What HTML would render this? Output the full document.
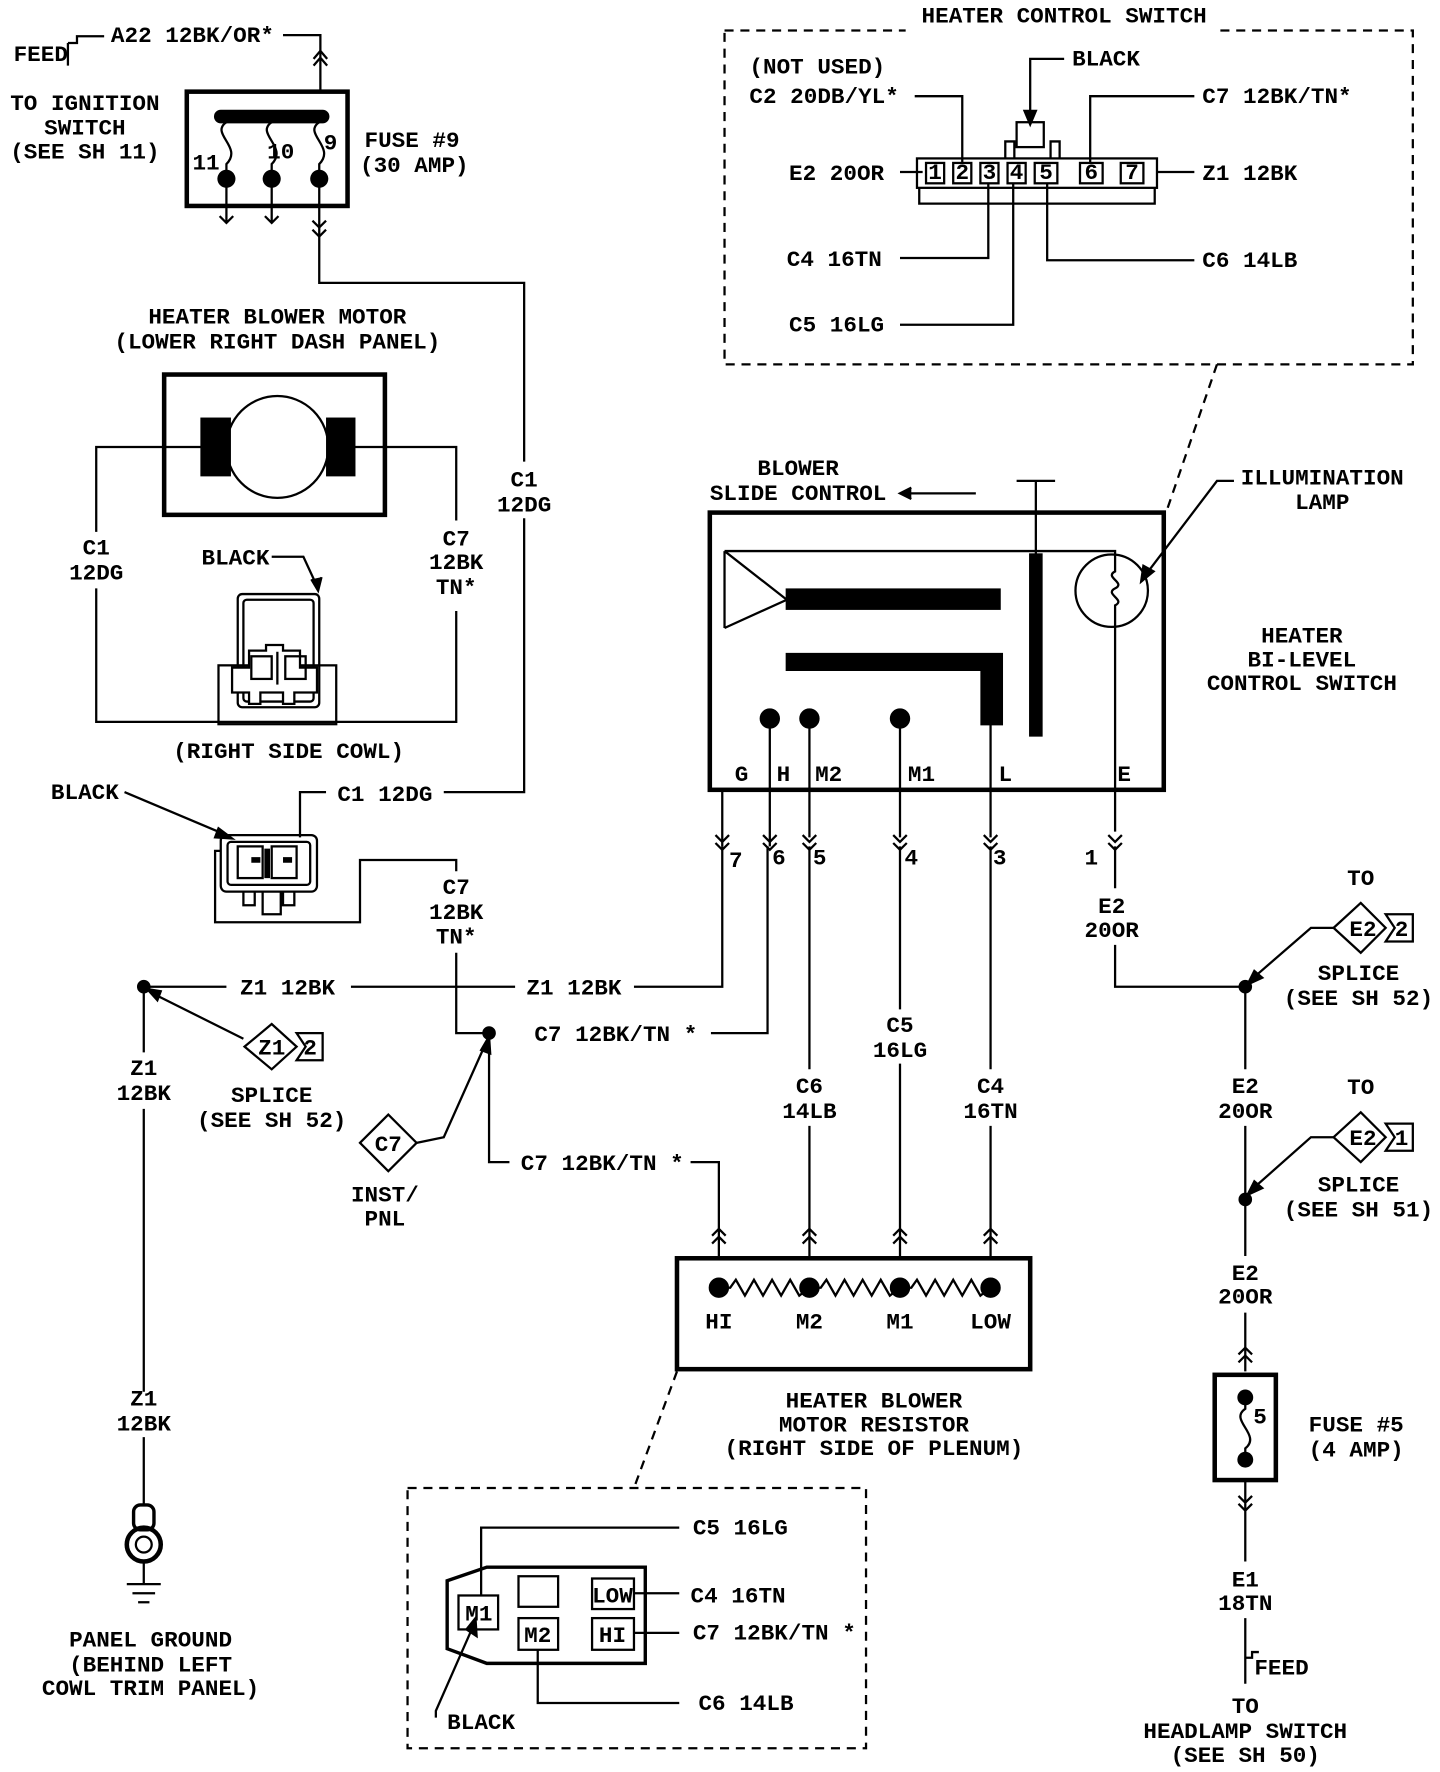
<!DOCTYPE html>
<html><head><style>
html,body{margin:0;padding:0;background:#fff;}
svg{display:block;}
text{font-family:"Liberation Mono",monospace;font-weight:bold;font-size:20px;fill:#000;}
</style></head><body>
<svg width="1440" height="1772" viewBox="0 0 1272 1566" preserveAspectRatio="none" xmlns="http://www.w3.org/2000/svg">
<g fill="none" stroke="#000" stroke-width="2">
<!-- top left feed -->
<path d="M60,38 V58 M60,38 H68 V32 H92"/>
<path d="M250,31 H283 V80"/>
<path d="M277,52 L283,45 L289,52 M277,58 L283,51 L289,58"/>
<rect x="165" y="81" width="142" height="101" stroke-width="4"/>
<path d="M195,103 H285" stroke-width="12" stroke-linecap="round"/>
<path d="M200,108 C185,118 215,130 200,145 V158 M240,108 C225,118 255,130 240,145 V158 M282,108 C267,118 297,130 282,145 V158"/>
<path d="M200,158 V197 M194,191 L200,197 L206,191 M240,158 V197 M234,191 L240,197 L246,191"/>
<path d="M282,158 V250 H463 V408 M463,458 V700 H392 M288,700 H265 V740"/>
<path d="M276,195 L282,201 L288,195 M276,203 L282,209 L288,203"/>
<!-- blower motor -->
<rect x="145" y="331" width="195" height="124" stroke-width="4"/>
<circle cx="245" cy="395" r="45"/>
<rect x="178" y="370" width="25" height="50" fill="#000"/>
<rect x="289" y="370" width="24" height="50" fill="#000"/>
<path d="M178,395 H85 V470 M85,520 V638 H403 V540 M403,460 V395 H313"/>
<path d="M240,492 H268 L280,518"/>
<path d="M275,512 L281,522 L284,510" fill="#000"/>
<rect x="210" y="525" width="72" height="100" rx="4"/>
<rect x="215" y="530" width="62" height="90" rx="3"/>
<rect x="193" y="588" width="104" height="52"/>
<path d="M205,590 H220 V575 H235 V570 H250 V575 H265 V590 H280 V612 H260 V622 H250 V612 H230 V622 H220 V612 H205 Z" fill="#fff"/>
<rect x="222" y="580" width="18" height="20"/><rect x="252" y="580" width="18" height="20"/>
<path d="M245,576 V605"/>
<!-- connector 2 -->
<path d="M110,700 L200,738"/>
<path d="M193,732 L205,741 L190,740 Z" fill="#000"/>
<rect x="195" y="738" width="85" height="50" rx="5"/>
<rect x="201" y="744" width="73" height="38" rx="3"/>
<rect x="210" y="748" width="22" height="28"/><rect x="240" y="748" width="22" height="28"/>
<path d="M236,750 V776 M222,760 H230 M250,760 H258" stroke-width="5"/>
<path d="M215,788 V800 H225 V788 M250,788 V800 H260 V788 M232,788 V808 H248 V788"/>
<path d="M195,752 H190 V815 H318 V760 H403 V770 M403,842 V913 H432"/>
<!-- Z1 line -->
<path d="M127,872 H200 M310,872 H455 M560,872 H638 V748"/>
<path d="M127,872 V930 M127,980 V1230 M127,1270 V1330"/>
<rect x="118" y="1330" width="18" height="22" rx="6" stroke-width="3"/>
<circle cx="127" cy="1365" r="15" stroke-width="4"/><circle cx="127" cy="1365" r="7"/>
<path d="M127,1380 V1400 M112,1400 H142 M117,1408 H137 M122,1416 H132"/>
<path d="M215,918 L135,878"/>
<path d="M142,876 L130,874 L139,884 Z" fill="#000"/>
<path d="M216,925 L240,905 L262,925 L240,945 Z"/>
<path d="M262,913 H285 V937 H262 L270,925 Z"/>
<path d="M368,1010 L392,1005 L430,920"/>
<path d="M425,928 L432,916 L433,931 Z" fill="#000"/>
<path d="M318,1010 L343,985 L368,1010 L343,1035 Z"/>
<path d="M628,913 H678 V748"/>
<path d="M432,913 V1027 H450 M610,1027 H635 V1110"/>
<!-- slide control -->
<rect x="627" y="453" width="401" height="245" stroke-width="4"/>
<path d="M795,436 H862"/><path d="M805,431 L795,436 L805,441" fill="#000"/>
<path d="M898,425 H932 M915,425 V650"/>
<rect x="910" y="490" width="10" height="160" fill="#000"/>
<path d="M640,487 H985 V490 M640,487 V555 M640,487 L695,530 L640,555"/>
<rect x="695" y="521" width="188" height="17" fill="#000"/>
<path d="M695,578 H885 V640 H867 V592 H695 Z" fill="#000"/>
<circle cx="680" cy="635" r="8" fill="#000"/><circle cx="715" cy="635" r="8" fill="#000"/><circle cx="795" cy="635" r="8" fill="#000"/>
<circle cx="982" cy="522" r="32"/>
<path d="M985,490 V505 C975,510 995,515 985,520 C975,525 995,530 985,535 V735"/>
<path d="M1090,425 H1075 L1012,508"/><path d="M1010,500 L1008,514 L1019,505 Z" fill="#000"/>
<path d="M638,698 V748 M680,635 V748 M715,635 V740 M795,635 V740 M875,640 V740"/>
<path d="M632,738 L638,744 L644,738 M632,745 L638,751 L644,745 M674,738 L680,744 L686,738 M674,745 L680,751 L686,745 M709,738 L715,744 L721,738 M709,745 L715,751 L721,745 M789,738 L795,744 L801,738 M789,745 L795,751 L801,745 M869,738 L875,744 L881,738 M869,745 L875,751 L881,745 M979,738 L985,744 L991,738 M979,745 L985,751 L991,745"/>
<path d="M715,748 V945 M715,995 V1110 M795,748 V892 M795,940 V1110 M875,748 V945 M875,995 V1110 M985,748 V785 M985,835 V872 H1100"/>
<path d="M629,1092 L635,1086 L641,1092 M629,1099 L635,1093 L641,1099 M709,1092 L715,1086 L721,1092 M709,1099 L715,1093 L721,1099 M789,1092 L795,1086 L801,1092 M789,1099 L795,1093 L801,1099 M869,1092 L875,1086 L881,1092 M869,1099 L875,1093 L881,1099"/>
<!-- resistor -->
<rect x="598" y="1112" width="312" height="98" stroke-width="4"/>
<circle cx="635" cy="1138" r="8" fill="#000"/><circle cx="715" cy="1138" r="8" fill="#000"/><circle cx="795" cy="1138" r="8" fill="#000"/><circle cx="875" cy="1138" r="8" fill="#000"/>
<path d="M635,1138 L645,1138 L650,1131 L658,1145 L666,1131 L674,1145 L682,1131 L690,1145 L698,1131 L706,1145 L715,1138 L725,1138 L730,1131 L738,1145 L746,1131 L754,1145 L762,1131 L770,1145 L778,1131 L786,1145 L795,1138 L805,1138 L810,1131 L818,1145 L826,1131 L834,1145 L842,1131 L850,1145 L858,1131 L866,1145 L875,1138"/>
<path d="M598,1212 L560,1315 M640,322" stroke-dasharray="8,6"/>
<rect x="360" y="1315" width="405" height="230" stroke-dasharray="8,6"/>
<path d="M395,1397 L430,1385 H570 V1470 H430 L395,1457 Z" stroke-width="3"/>
<rect x="405" y="1410" width="35" height="30"/><rect x="458" y="1393" width="35" height="27"/>
<rect x="523" y="1395" width="37" height="27"/><rect x="458" y="1430" width="35" height="28"/><rect x="523" y="1430" width="37" height="28"/>
<path d="M425,1410 V1350 H600 M560,1408 H600 M560,1443 H600 M475,1458 V1505 H600"/>
<path d="M385,1518 V1512 L418,1437"/><path d="M412,1440 L420,1430 L421,1446 Z" fill="#000"/>
<!-- right column -->
<path d="M1178,820 H1158 L1105,866"/><path d="M1108,858 L1102,870 L1115,864 Z" fill="#000"/>
<path d="M1178,820 L1202,798 L1224,820 L1202,842 Z"/><path d="M1224,808 H1248 V832 H1224 L1232,820 Z"/>
<path d="M1100,872 V945 M1100,995 V1110 M1100,1160 V1212"/>
<path d="M1178,1005 H1158 L1105,1052"/><path d="M1108,1044 L1102,1056 L1115,1050 Z" fill="#000"/>
<path d="M1178,1005 L1202,983 L1224,1005 L1202,1027 Z"/><path d="M1224,993 H1248 V1017 H1224 L1232,1005 Z"/>
<path d="M1094,1197 L1100,1191 L1106,1197 M1094,1204 L1100,1198 L1106,1204"/>
<rect x="1073" y="1215" width="54" height="93" stroke-width="4"/>
<path d="M1100,1235 V1245 C1085,1255 1115,1268 1100,1280 V1290"/>
<path d="M1100,1308 V1380 M1094,1322 L1100,1328 L1106,1322 M1094,1329 L1100,1335 L1106,1329 M1100,1430 V1488 M1100,1465 H1106 V1460 H1112"/>
<!-- heater control switch -->
<path d="M640,27 H800 M1078,27 H1248 V322 H640 V27" stroke-dasharray="8,6"/>
<path d="M1075,322 L1030,453" stroke-dasharray="8,6"/>
<rect x="810" y="140" width="212" height="26"/>
<path d="M812,166 V180 H1020 V166"/>
<rect x="818" y="144" width="16" height="18"/><rect x="842" y="144" width="16" height="18"/><rect x="866" y="144" width="16" height="18"/><rect x="890" y="144" width="16" height="18"/><rect x="914" y="144" width="20" height="18"/><rect x="954" y="144" width="20" height="18"/><rect x="990" y="144" width="20" height="18"/>
<rect x="898" y="108" width="24" height="22"/>
<path d="M888,140 V125 H896 V140 M928,140 V125 H936 V140"/>
<path d="M808,85 H850 V144 M940,52 H910 V100 M1055,85 H963 V144 M795,152 H815 M1022,152 H1055 M795,228 H873 V162 M1055,230 H925 V162 M795,287 H895 V162"/>
<path d="M905,98 L910,110 L915,98 Z" fill="#000"/>
</g>
<g fill="#000" stroke="none">
<circle cx="127" cy="872" r="6"/><circle cx="432" cy="913" r="6"/><circle cx="1100" cy="872" r="6"/><circle cx="1100" cy="1060" r="6"/>
<circle cx="200" cy="158" r="8"/><circle cx="240" cy="158" r="8"/><circle cx="282" cy="158" r="8"/>
<circle cx="1100" cy="1235" r="7"/><circle cx="1100" cy="1290" r="7"/>
</g>
<g>
<text x="12" y="54">FEED</text>
<text x="98" y="37">A22 12BK/OR*</text>
<text x="75" y="97" text-anchor="middle">TO IGNITION</text>
<text x="75" y="119" text-anchor="middle">SWITCH</text>
<text x="75" y="140" text-anchor="middle">(SEE SH 11)</text>
<text x="170" y="150">11</text><text x="236" y="140">10</text><text x="286" y="132">9</text>
<text x="322" y="130">FUSE #9</text><text x="318" y="152">(30 AMP)</text>
<text x="245" y="286" text-anchor="middle">HEATER BLOWER MOTOR</text>
<text x="245" y="308" text-anchor="middle">(LOWER RIGHT DASH PANEL)</text>
<text x="463" y="430" text-anchor="middle">C1</text><text x="463" y="452" text-anchor="middle">12DG</text>
<text x="85" y="490" text-anchor="middle">C1</text><text x="85" y="512" text-anchor="middle">12DG</text>
<text x="403" y="482" text-anchor="middle">C7</text><text x="403" y="503" text-anchor="middle">12BK</text><text x="403" y="525" text-anchor="middle">TN*</text>
<text x="178" y="499">BLACK</text>
<text x="255" y="670" text-anchor="middle">(RIGHT SIDE COWL)</text>
<text x="45" y="706">BLACK</text>
<text x="298" y="708">C1 12DG</text>
<text x="403" y="790" text-anchor="middle">C7</text><text x="403" y="812" text-anchor="middle">12BK</text><text x="403" y="834" text-anchor="middle">TN*</text>
<text x="212" y="879">Z1 12BK</text><text x="465" y="879">Z1 12BK</text>
<text x="127" y="950" text-anchor="middle">Z1</text><text x="127" y="972" text-anchor="middle">12BK</text>
<text x="127" y="1242" text-anchor="middle">Z1</text><text x="127" y="1264" text-anchor="middle">12BK</text>
<text x="133" y="1455" text-anchor="middle">PANEL GROUND</text><text x="133" y="1477" text-anchor="middle">(BEHIND LEFT</text><text x="133" y="1498" text-anchor="middle">COWL TRIM PANEL)</text>
<text x="240" y="932" text-anchor="middle" font-size="17">Z1</text><text x="274" y="932" text-anchor="middle" font-size="17">2</text>
<text x="240" y="974" text-anchor="middle">SPLICE</text><text x="240" y="996" text-anchor="middle">(SEE SH 52)</text>
<text x="343" y="1017" text-anchor="middle" font-size="17">C7</text>
<text x="340" y="1062" text-anchor="middle">INST/</text><text x="340" y="1083" text-anchor="middle">PNL</text>
<text x="472" y="920">C7 12BK/TN *</text>
<text x="460" y="1034">C7 12BK/TN *</text>
<text x="705" y="420" text-anchor="middle">BLOWER</text><text x="705" y="442" text-anchor="middle">SLIDE CONTROL</text>
<text x="1168" y="428" text-anchor="middle">ILLUMINATION</text><text x="1168" y="450" text-anchor="middle">LAMP</text>
<text x="1150" y="568" text-anchor="middle">HEATER</text><text x="1150" y="589" text-anchor="middle">BI-LEVEL</text><text x="1150" y="610" text-anchor="middle">CONTROL SWITCH</text>
<text x="655" y="690" text-anchor="middle">G</text><text x="692" y="690" text-anchor="middle">H</text><text x="732" y="690" text-anchor="middle">M2</text><text x="814" y="690" text-anchor="middle">M1</text><text x="888" y="690" text-anchor="middle">L</text><text x="993" y="690" text-anchor="middle">E</text>
<text x="650" y="766" text-anchor="middle">7</text><text x="688" y="764" text-anchor="middle">6</text><text x="724" y="764" text-anchor="middle">5</text><text x="805" y="764" text-anchor="middle">4</text><text x="883" y="764" text-anchor="middle">3</text><text x="964" y="764" text-anchor="middle">1</text>
<text x="982" y="807" text-anchor="middle">E2</text><text x="982" y="828" text-anchor="middle">20OR</text>
<text x="795" y="912" text-anchor="middle">C5</text><text x="795" y="934" text-anchor="middle">16LG</text>
<text x="715" y="966" text-anchor="middle">C6</text><text x="715" y="988" text-anchor="middle">14LB</text>
<text x="875" y="966" text-anchor="middle">C4</text><text x="875" y="988" text-anchor="middle">16TN</text>
<text x="635" y="1174" text-anchor="middle">HI</text><text x="715" y="1174" text-anchor="middle">M2</text><text x="795" y="1174" text-anchor="middle">M1</text><text x="875" y="1174" text-anchor="middle">LOW</text>
<text x="772" y="1244" text-anchor="middle">HEATER BLOWER</text><text x="772" y="1265" text-anchor="middle">MOTOR RESISTOR</text><text x="772" y="1286" text-anchor="middle">(RIGHT SIDE OF PLENUM)</text>
<text x="423" y="1432" text-anchor="middle" font-size="17">M1</text><text x="541" y="1416" text-anchor="middle" font-size="17">LOW</text><text x="475" y="1451" text-anchor="middle" font-size="17">M2</text><text x="541" y="1451" text-anchor="middle" font-size="17">HI</text>
<text x="612" y="1356">C5 16LG</text><text x="610" y="1416">C4 16TN</text><text x="612" y="1449">C7 12BK/TN *</text><text x="617" y="1511">C6 14LB</text>
<text x="395" y="1528">BLACK</text>
<text x="1202" y="782" text-anchor="middle">TO</text>
<text x="1204" y="827" text-anchor="middle" font-size="17">E2</text><text x="1238" y="827" text-anchor="middle" font-size="17">2</text>
<text x="1200" y="866" text-anchor="middle">SPLICE</text><text x="1200" y="888" text-anchor="middle">(SEE SH 52)</text>
<text x="1100" y="966" text-anchor="middle">E2</text><text x="1100" y="988" text-anchor="middle">20OR</text>
<text x="1202" y="967" text-anchor="middle">TO</text>
<text x="1204" y="1012" text-anchor="middle" font-size="17">E2</text><text x="1238" y="1012" text-anchor="middle" font-size="17">1</text>
<text x="1200" y="1053" text-anchor="middle">SPLICE</text><text x="1200" y="1075" text-anchor="middle">(SEE SH 51)</text>
<text x="1100" y="1131" text-anchor="middle">E2</text><text x="1100" y="1152" text-anchor="middle">20OR</text>
<text x="1113" y="1258" text-anchor="middle" font-size="17">5</text>
<text x="1198" y="1265" text-anchor="middle">FUSE #5</text><text x="1198" y="1287" text-anchor="middle">(4 AMP)</text>
<text x="1100" y="1402" text-anchor="middle">E1</text><text x="1100" y="1423" text-anchor="middle">18TN</text>
<text x="1108" y="1480">FEED</text>
<text x="1100" y="1514" text-anchor="middle">TO</text><text x="1100" y="1536" text-anchor="middle">HEADLAMP SWITCH</text><text x="1100" y="1557" text-anchor="middle">(SEE SH 50)</text>
<text x="940" y="20" text-anchor="middle">HEATER CONTROL SWITCH</text>
<text x="662" y="65">(NOT USED)</text><text x="662" y="91">C2 20DB/YL*</text>
<text x="947" y="58">BLACK</text>
<text x="1062" y="91">C7 12BK/TN*</text>
<text x="697" y="159">E2 20OR</text><text x="1062" y="159">Z1 12BK</text>
<text x="695" y="235">C4 16TN</text><text x="1062" y="236">C6 14LB</text>
<text x="697" y="293">C5 16LG</text>
<text x="826" y="158" text-anchor="middle" font-size="13">1</text><text x="850" y="158" text-anchor="middle" font-size="13">2</text><text x="874" y="158" text-anchor="middle" font-size="13">3</text><text x="898" y="158" text-anchor="middle" font-size="13">4</text><text x="924" y="158" text-anchor="middle" font-size="13">5</text><text x="964" y="158" text-anchor="middle" font-size="13">6</text><text x="1000" y="158" text-anchor="middle" font-size="13">7</text>
</g>
</svg>
</body></html>
